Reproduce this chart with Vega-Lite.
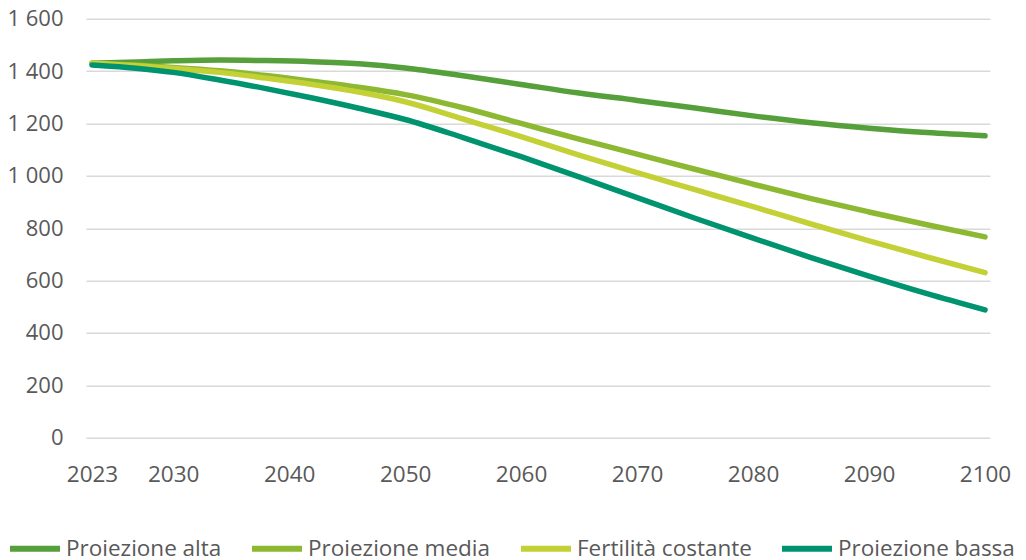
{
  "$schema": "https://vega.github.io/schema/vega-lite/v6.json",
  "autosize": "none",
  "padding": {"left": 86, "top": 18.7, "right": 36, "bottom": 122.3},
  "width": 904,
  "height": 419,
  "background": "white",
  "config": {
    "view": {"stroke": null},
    "font": "Open Sans"
  },
  "data": {
    "values": [
      {"anno": 2023, "serie": "Proiezione alta", "valore": 1430},
      {"anno": 2027, "serie": "Proiezione alta", "valore": 1435},
      {"anno": 2030, "serie": "Proiezione alta", "valore": 1439},
      {"anno": 2034, "serie": "Proiezione alta", "valore": 1442},
      {"anno": 2038, "serie": "Proiezione alta", "valore": 1440},
      {"anno": 2042, "serie": "Proiezione alta", "valore": 1436},
      {"anno": 2046, "serie": "Proiezione alta", "valore": 1428},
      {"anno": 2050, "serie": "Proiezione alta", "valore": 1412},
      {"anno": 2055, "serie": "Proiezione alta", "valore": 1382},
      {"anno": 2060, "serie": "Proiezione alta", "valore": 1349},
      {"anno": 2065, "serie": "Proiezione alta", "valore": 1316},
      {"anno": 2070, "serie": "Proiezione alta", "valore": 1288},
      {"anno": 2075, "serie": "Proiezione alta", "valore": 1259},
      {"anno": 2080, "serie": "Proiezione alta", "valore": 1229},
      {"anno": 2085, "serie": "Proiezione alta", "valore": 1203},
      {"anno": 2090, "serie": "Proiezione alta", "valore": 1182},
      {"anno": 2095, "serie": "Proiezione alta", "valore": 1165},
      {"anno": 2100, "serie": "Proiezione alta", "valore": 1153},

      {"anno": 2023, "serie": "Proiezione media", "valore": 1430},
      {"anno": 2027, "serie": "Proiezione media", "valore": 1422},
      {"anno": 2030, "serie": "Proiezione media", "valore": 1414},
      {"anno": 2034, "serie": "Proiezione media", "valore": 1401},
      {"anno": 2038, "serie": "Proiezione media", "valore": 1383},
      {"anno": 2042, "serie": "Proiezione media", "valore": 1361},
      {"anno": 2046, "serie": "Proiezione media", "valore": 1338},
      {"anno": 2050, "serie": "Proiezione media", "valore": 1310},
      {"anno": 2055, "serie": "Proiezione media", "valore": 1260},
      {"anno": 2060, "serie": "Proiezione media", "valore": 1200},
      {"anno": 2065, "serie": "Proiezione media", "valore": 1140},
      {"anno": 2070, "serie": "Proiezione media", "valore": 1083},
      {"anno": 2075, "serie": "Proiezione media", "valore": 1025},
      {"anno": 2080, "serie": "Proiezione media", "valore": 968},
      {"anno": 2085, "serie": "Proiezione media", "valore": 913},
      {"anno": 2090, "serie": "Proiezione media", "valore": 862},
      {"anno": 2095, "serie": "Proiezione media", "valore": 813},
      {"anno": 2100, "serie": "Proiezione media", "valore": 767},

      {"anno": 2023, "serie": "Fertilità costante", "valore": 1430},
      {"anno": 2027, "serie": "Fertilità costante", "valore": 1420},
      {"anno": 2030, "serie": "Fertilità costante", "valore": 1410},
      {"anno": 2034, "serie": "Fertilità costante", "valore": 1395},
      {"anno": 2038, "serie": "Fertilità costante", "valore": 1373},
      {"anno": 2042, "serie": "Fertilità costante", "valore": 1349},
      {"anno": 2046, "serie": "Fertilità costante", "valore": 1320},
      {"anno": 2050, "serie": "Fertilità costante", "valore": 1283},
      {"anno": 2055, "serie": "Fertilità costante", "valore": 1217},
      {"anno": 2060, "serie": "Fertilità costante", "valore": 1150},
      {"anno": 2065, "serie": "Fertilità costante", "valore": 1079},
      {"anno": 2070, "serie": "Fertilità costante", "valore": 1012},
      {"anno": 2075, "serie": "Fertilità costante", "valore": 947},
      {"anno": 2080, "serie": "Fertilità costante", "valore": 882},
      {"anno": 2085, "serie": "Fertilità costante", "valore": 816},
      {"anno": 2090, "serie": "Fertilità costante", "valore": 752},
      {"anno": 2095, "serie": "Fertilità costante", "valore": 690},
      {"anno": 2100, "serie": "Fertilità costante", "valore": 630},

      {"anno": 2023, "serie": "Proiezione bassa", "valore": 1423},
      {"anno": 2027, "serie": "Proiezione bassa", "valore": 1410},
      {"anno": 2030, "serie": "Proiezione bassa", "valore": 1395},
      {"anno": 2034, "serie": "Proiezione bassa", "valore": 1366},
      {"anno": 2038, "serie": "Proiezione bassa", "valore": 1333},
      {"anno": 2042, "serie": "Proiezione bassa", "valore": 1297},
      {"anno": 2046, "serie": "Proiezione bassa", "valore": 1258},
      {"anno": 2050, "serie": "Proiezione bassa", "valore": 1215},
      {"anno": 2055, "serie": "Proiezione bassa", "valore": 1146},
      {"anno": 2060, "serie": "Proiezione bassa", "valore": 1073},
      {"anno": 2065, "serie": "Proiezione bassa", "valore": 996},
      {"anno": 2070, "serie": "Proiezione bassa", "valore": 917},
      {"anno": 2075, "serie": "Proiezione bassa", "valore": 838},
      {"anno": 2080, "serie": "Proiezione bassa", "valore": 762},
      {"anno": 2085, "serie": "Proiezione bassa", "valore": 688},
      {"anno": 2090, "serie": "Proiezione bassa", "valore": 617},
      {"anno": 2095, "serie": "Proiezione bassa", "valore": 550},
      {"anno": 2100, "serie": "Proiezione bassa", "valore": 488}
    ]
  },
  "mark": {"type": "line", "strokeWidth": 5.5, "strokeCap": "round", "strokeJoin": "round", "interpolate": "monotone"},
  "encoding": {
    "x": {
      "field": "anno",
      "type": "quantitative",
      "scale": {"domain": [2022.483, 2100.43], "nice": false, "zero": false},
      "axis": {
        "title": null,
        "values": [2023, 2030, 2040, 2050, 2060, 2070, 2080, 2090, 2100],
        "format": "d",
        "grid": false,
        "ticks": false,
        "domain": false,
        "labelFont": "Open Sans",
        "labelFontSize": 22.5,
        "labelColor": "#595959",
        "labelPadding": 26,
        "labelFlush": false,
        "labelOverlap": false
      }
    },
    "y": {
      "field": "valore",
      "type": "quantitative",
      "scale": {"domain": [0, 1600], "nice": false},
      "axis": {
        "title": null,
        "values": [0, 200, 400, 600, 800, 1000, 1200, 1400, 1600],
        "labelExpr": "replace(format(datum.value, ','), ',', ' ')",
        "grid": true,
        "gridColor": "#d9d9d9",
        "gridWidth": 1.5,
        "ticks": false,
        "domain": false,
        "labelFont": "Open Sans",
        "labelFontSize": 22,
        "labelColor": "#595959",
        "labelPadding": 23
      }
    },
    "color": {
      "field": "serie",
      "type": "nominal",
      "sort": ["Proiezione alta", "Proiezione media", "Fertilità costante", "Proiezione bassa"],
      "scale": {
        "domain": ["Proiezione alta", "Proiezione media", "Fertilità costante", "Proiezione bassa"],
        "range": ["#55a03a", "#8cb832", "#c3d136", "#00936f"]
      },
      "legend": {
        "title": null,
        "orient": "none",
        "direction": "horizontal",
        "legendX": -79,
        "legendY": 502,
        "symbolType": "stroke",
        "symbolSize": 2500,
        "symbolStrokeWidth": 6,
        "labelOffset": 3,
        "columnPadding": 18,
        "labelFont": "Open Sans",
        "labelFontSize": 22.5,
        "labelColor": "#595959",
        "labelLimit": 400
      }
    }
  }
}
